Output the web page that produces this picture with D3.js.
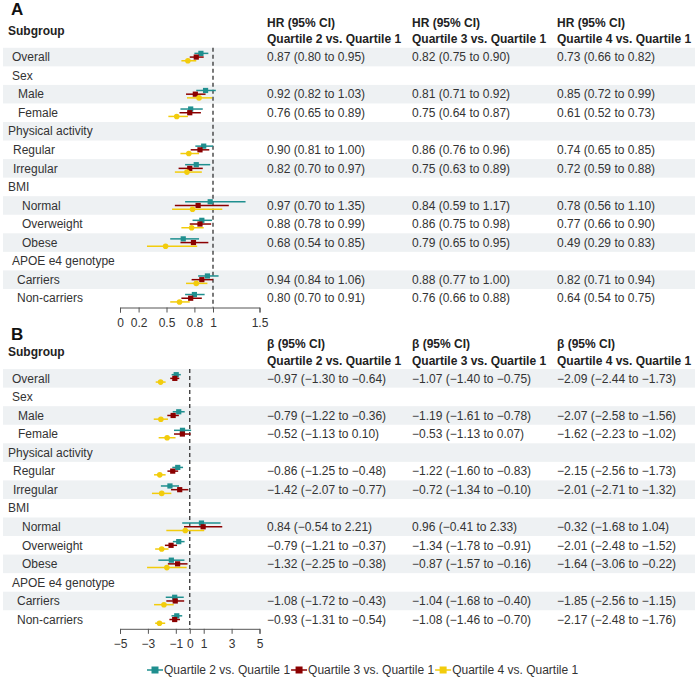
<!DOCTYPE html>
<html>
<head>
<meta charset="utf-8">
<script src="https://cdn.jsdelivr.net/npm/d3@7"></script>
<style>
  body { margin: 0; background: #fff; }
  svg { font-family: "Liberation Sans", Arial, sans-serif; }
</style>
</head>
<body>
<div id="chart"></div>
<script>
// rows shared by both panels (null = group heading, no estimate)
var subgroups = ["Overall", "Sex", "Male", "Female", "Physical activity", "Regular", "Irregular",
    "BMI", "Normal", "Overweight", "Obese", "APOE e4 genotype", "Carriers", "Non-carriers"];
var seriesNames = ["Quartile 2 vs. Quartile 1", "Quartile 3 vs. Quartile 1", "Quartile 4 vs. Quartile 1"];

// panel A: hazard ratios [estimate, low, high]
var hrQ2 = [[0.87, 0.80, 0.95], null, [0.92, 0.82, 1.03], [0.76, 0.65, 0.89], null, [0.90, 0.81, 1.00], [0.82, 0.70, 0.97],
    null, [0.97, 0.70, 1.35], [0.88, 0.78, 0.99], [0.68, 0.54, 0.85], null, [0.94, 0.84, 1.06], [0.80, 0.70, 0.91]];
var hrQ3 = [[0.82, 0.75, 0.90], null, [0.81, 0.71, 0.92], [0.75, 0.64, 0.87], null, [0.86, 0.76, 0.96], [0.75, 0.63, 0.89],
    null, [0.84, 0.59, 1.17], [0.86, 0.75, 0.98], [0.79, 0.65, 0.95], null, [0.88, 0.77, 1.00], [0.76, 0.66, 0.88]];
var hrQ4 = [[0.73, 0.66, 0.82], null, [0.85, 0.72, 0.99], [0.61, 0.52, 0.73], null, [0.74, 0.65, 0.85], [0.72, 0.59, 0.88],
    null, [0.78, 0.56, 1.10], [0.77, 0.66, 0.90], [0.49, 0.29, 0.83], null, [0.82, 0.71, 0.94], [0.64, 0.54, 0.75]];

// panel B: beta coefficients [estimate, low, high]
var betaQ2 = [[-0.97, -1.30, -0.64], null, [-0.79, -1.22, -0.36], [-0.52, -1.13, 0.10], null, [-0.86, -1.25, -0.48], [-1.42, -2.07, -0.77],
    null, [0.84, -0.54, 2.21], [-0.79, -1.21, -0.37], [-1.32, -2.25, -0.38], null, [-1.08, -1.72, -0.43], [-0.93, -1.31, -0.54]];
var betaQ3 = [[-1.07, -1.40, -0.75], null, [-1.19, -1.61, -0.78], [-0.53, -1.13, 0.07], null, [-1.22, -1.60, -0.83], [-0.72, -1.34, -0.10],
    null, [0.96, -0.41, 2.33], [-1.34, -1.78, -0.91], [-0.87, -1.57, -0.16], null, [-1.04, -1.68, -0.40], [-1.08, -1.46, -0.70]];
var betaQ4 = [[-2.09, -2.44, -1.73], null, [-2.07, -2.58, -1.56], [-1.62, -2.23, -1.02], null, [-2.15, -2.56, -1.73], [-2.01, -2.71, -1.32],
    null, [-0.32, -1.68, 1.04], [-2.01, -2.48, -1.52], [-1.64, -3.06, -0.22], null, [-1.85, -2.56, -1.15], [-2.17, -2.48, -1.76]];

var hrTicks = [0, 0.2, 0.5, 0.8, 1, 1.5];
var betaTicks = [-5, -3, -1, 0, 1, 3, 5];

// layout / style
var colors = ["#1f8f8f", "#8b0000", "#f2cc0c"];
var offsets = [-3.7, 0, 3.7];
var labelX = {"Overall": 12, "Sex": 12, "Male": 18, "Female": 18, "Physical activity": 8, "Regular": 13, "Irregular": 13,
    "BMI": 8, "Normal": 22, "Overweight": 22, "Obese": 22, "APOE e4 genotype": 12, "Carriers": 17, "Non-carriers": 17};
var colX = [267, 412, 557];
var rowH = 18.55;
var fmt = d3.format(".2f");

var svg = d3.select("#chart").append("svg")
    .attr("width", 700)
    .attr("height", 686);

function drawPanel(p) {
    var g = svg.append("g");
    var top = p.top;

    var y = d3.scaleBand()
        .domain(subgroups)
        .range([top, top + subgroups.length * rowH]);
    var x = d3.scaleLinear()
        .domain(p.domain)
        .range([120, 259.5]);

    // zebra bands
    g.selectAll("rect.band")
        .data(subgroups.filter(function (d, i) { return i % 2 === 0; }))
        .join("rect")
        .attr("class", "band")
        .attr("x", 3)
        .attr("width", 692)
        .attr("y", function (d) { return y(d); })
        .attr("height", y.bandwidth())
        .attr("fill", "#eef1f3");

    // headings
    g.append("text").attr("x", 11).attr("y", p.titleY).attr("dy", "0.35em")
        .attr("font-size", "17px").attr("font-weight", "bold").attr("fill", "#111").text(p.title);
    g.append("text").attr("x", 8).attr("y", top - 17).attr("dy", "0.35em")
        .attr("font-size", "12px").attr("font-weight", "bold").attr("fill", "#222").text("Subgroup");
    colX.forEach(function (cx, k) {
        g.append("text").attr("x", cx).attr("y", top - 25).attr("dy", "0.35em")
            .attr("font-size", "12px").attr("font-weight", "bold").attr("fill", "#222").text(p.measure);
        g.append("text").attr("x", cx).attr("y", top - 8.8).attr("dy", "0.35em")
            .attr("font-size", "12px").attr("font-weight", "bold").attr("fill", "#222").text(seriesNames[k]);
    });

    // row labels
    g.selectAll("text.row")
        .data(subgroups)
        .join("text")
        .attr("class", "row")
        .attr("x", function (d) { return labelX[d]; })
        .attr("y", function (d) { return y(d) + y.bandwidth() / 2; })
        .attr("dy", "0.35em")
        .attr("font-size", "12px")
        .attr("fill", "#333")
        .text(function (d) { return d; });

    // reference line
    g.append("line")
        .attr("x1", x(p.ref)).attr("x2", x(p.ref))
        .attr("y1", top).attr("y2", y.range()[1])
        .attr("stroke", "#333")
        .attr("stroke-width", 1.3)
        .attr("stroke-dasharray", "4,3");

    // estimates
    p.series.forEach(function (vals, k) {
        var rows = subgroups.map(function (d, i) { return {label: d, v: vals[i]}; })
            .filter(function (r) { return r.v; });
        var cy = function (r) { return y(r.label) + y.bandwidth() / 2 + offsets[k]; };

        g.selectAll("line.ci" + k)
            .data(rows)
            .join("line")
            .attr("class", "ci" + k)
            .attr("x1", function (r) { return x(r.v[1]); })
            .attr("x2", function (r) { return x(r.v[2]); })
            .attr("y1", cy).attr("y2", cy)
            .attr("stroke", colors[k])
            .attr("stroke-width", 1.5);

        if (k === 2) {
            g.selectAll("circle.pt" + k)
                .data(rows)
                .join("circle")
                .attr("class", "pt" + k)
                .attr("cx", function (r) { return x(r.v[0]); })
                .attr("cy", cy)
                .attr("r", 2.8)
                .attr("fill", colors[k]);
        } else {
            g.selectAll("rect.pt" + k)
                .data(rows)
                .join("rect")
                .attr("class", "pt" + k)
                .attr("x", function (r) { return x(r.v[0]) - 2.6; })
                .attr("y", function (r) { return cy(r) - 2.6; })
                .attr("width", 5.2)
                .attr("height", 5.2)
                .attr("fill", colors[k]);
        }

        // value text column
        g.selectAll("text.val" + k)
            .data(rows)
            .join("text")
            .attr("class", "val" + k)
            .attr("x", colX[k])
            .attr("y", function (r) { return y(r.label) + y.bandwidth() / 2; })
            .attr("dy", "0.35em")
            .attr("font-size", "12px")
            .attr("fill", "#333")
            .text(function (r) { return fmt(r.v[0]) + " (" + fmt(r.v[1]) + " to " + fmt(r.v[2]) + ")"; });
    });

    // x axis
    var ax = g.append("g")
        .attr("transform", "translate(0," + y.range()[1] + ")")
        .call(d3.axisBottom(x).tickValues(p.ticks).tickFormat(d3.format("")).tickSize(5).tickPadding(6));
    ax.select(".domain").attr("stroke", "#555");
    ax.selectAll(".tick line").attr("stroke", "#555");
    ax.selectAll("text").attr("font-size", "12px").attr("fill", "#333")
        .attr("font-family", "'Liberation Sans', Arial, sans-serif");
}

drawPanel({title: "A", titleY: 9.5, top: 47.8, measure: "HR (95% CI)", domain: [0, 1.5], ref: 1,
    ticks: hrTicks, series: [hrQ2, hrQ3, hrQ4]});
drawPanel({title: "B", titleY: 334, top: 369.1, measure: "\u03B2 (95% CI)", domain: [-5, 5], ref: 0,
    ticks: betaTicks, series: [betaQ2, betaQ3, betaQ4]});

// legend
var legend = svg.append("g");
var lx = 155;
seriesNames.forEach(function (name, k) {
    var item = legend.append("g");
    item.append("line")
        .attr("x1", lx - 8).attr("x2", lx + 8)
        .attr("y1", 670).attr("y2", 670)
        .attr("stroke", colors[k]).attr("stroke-width", 1.5);
    item.append("rect")
        .attr("x", lx - 3.5).attr("y", 666.5)
        .attr("width", 7).attr("height", 7)
        .attr("fill", colors[k]);
    var t = item.append("text")
        .attr("x", lx + 9).attr("y", 670).attr("dy", "0.35em")
        .attr("font-size", "12px").attr("fill", "#333")
        .text(name);
    lx = lx + 9 + t.node().getComputedTextLength() + 9;
});
</script>
</body>
</html>
